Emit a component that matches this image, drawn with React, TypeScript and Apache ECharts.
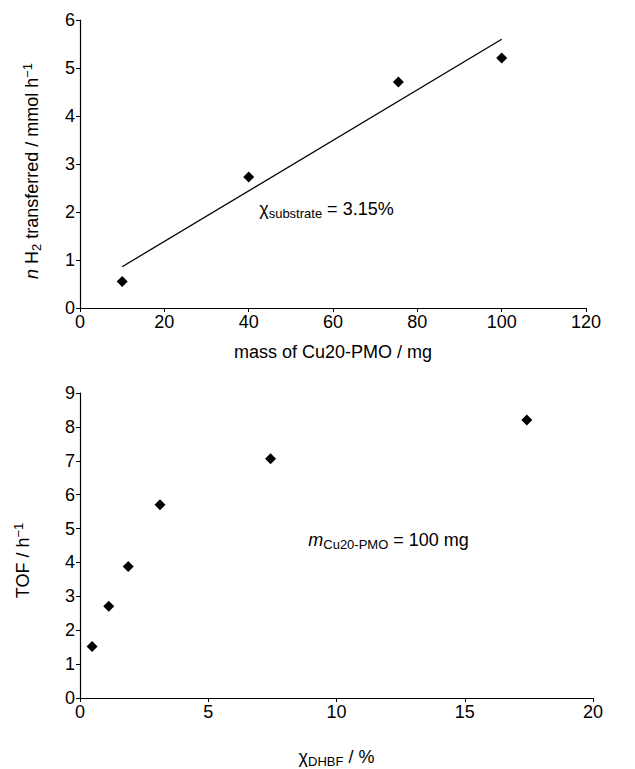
import React, { useEffect, useRef } from "react";
import * as echarts from "echarts";

// Top panel: H2 transferred vs catalyst mass
const massMg = [10, 40, 75.5, 100];
const h2Transferred = [0.55, 2.73, 4.71, 5.21];
const trendMass = [10, 100];
const trendH2 = [0.86, 5.6];
const topAnnotation = [42.5, 2.06];

// Bottom panel: TOF vs substrate fraction
const chiDHBF = [0.47, 1.12, 1.88, 3.12, 7.43, 17.42];
const tof = [1.52, 2.71, 3.88, 5.7, 7.06, 8.2];
const bottomAnnotation = [8.9, 4.65];

const FONT = "'Liberation Sans', Arial, sans-serif";
const BLACK = "#000";
const FS = 18;
const SUB = 13;

const richStyles = {
  i: { fontStyle: "italic", fontSize: FS, fontFamily: FONT, color: BLACK, lineHeight: 22 },
  sub: { fontSize: SUB, fontFamily: FONT, color: BLACK, lineHeight: 13, verticalAlign: "bottom" },
  sup: { fontSize: SUB, fontFamily: FONT, color: BLACK, lineHeight: 13, verticalAlign: "top" },
  n: { fontSize: FS, fontFamily: FONT, color: BLACK, lineHeight: 22 },
};

function axisCommon() {
  return {
    axisLine: { show: true, onZero: false, lineStyle: { color: BLACK, width: 1.2 } },
    axisTick: { show: true, inside: false, length: 4, lineStyle: { color: BLACK, width: 1 } },
    axisLabel: { color: BLACK, fontSize: FS, fontFamily: FONT, margin: 5 },
    splitLine: { show: false },
  };
}

function nameStyle(padding?: number[]) {
  return {
    color: BLACK,
    fontSize: FS,
    fontFamily: FONT,
    lineHeight: 22,
    rich: richStyles,
    ...(padding ? { padding } : {}),
  };
}

export default function App() {
  const ref = useRef<HTMLDivElement>(null);
  useEffect(() => {
    if (!ref.current) return;
    const chart = echarts.init(ref.current, undefined, { renderer: "svg" });
    const option: any = {
      animation: false,
      backgroundColor: "#fff",
      grid: [
        { left: 80, top: 20, width: 506, height: 288 },
        { left: 80, top: 393, width: 513, height: 309 },
      ],
      xAxis: [
        {
          ...axisCommon(),
          gridIndex: 0,
          type: "value",
          min: 0,
          max: 120,
          interval: 20,
          name: "{n|mass of Cu20-PMO / mg}",
          nameLocation: "middle",
          nameGap: 33,
          nameTextStyle: nameStyle(),
        },
        {
          ...axisCommon(),
          gridIndex: 1,
          type: "value",
          min: 0,
          max: 20,
          interval: 5,
          name: "{n|χ}{sub|DHBF}{n| / %}",
          nameLocation: "middle",
          nameGap: 48,
          nameTextStyle: nameStyle(),
        },
      ],
      yAxis: [
        {
          ...axisCommon(),
          gridIndex: 0,
          type: "value",
          min: 0,
          max: 6,
          interval: 1,
          name: "{i|n}{n| H}{sub|2}{n| transferred / mmol h}{sup|−1}",
          nameLocation: "middle",
          nameRotate: 90,
          nameGap: 37,
          nameTextStyle: nameStyle([0, 14, 0, 0]),
        },
        {
          ...axisCommon(),
          gridIndex: 1,
          type: "value",
          min: 0,
          max: 9,
          interval: 1,
          name: "{n|TOF / h}{sup|−1}",
          nameLocation: "middle",
          nameRotate: 90,
          nameGap: 46,
          nameTextStyle: nameStyle([0, 30, 0, 0]),
        },
      ],
      series: [
        {
          type: "line",
          xAxisIndex: 0,
          yAxisIndex: 0,
          data: trendMass.map((x, i) => [x, trendH2[i]]),
          showSymbol: false,
          symbol: "none",
          lineStyle: { color: BLACK, width: 1.3, opacity: 1 },
          z: 2,
        },
        {
          type: "scatter",
          xAxisIndex: 0,
          yAxisIndex: 0,
          data: massMg.map((x, i) => [x, h2Transferred[i]]),
          symbol: "diamond",
          symbolSize: 11,
          itemStyle: { color: BLACK, opacity: 1 },
          z: 3,
        },
        {
          type: "scatter",
          xAxisIndex: 0,
          yAxisIndex: 0,
          data: [topAnnotation],
          symbolSize: 0,
          silent: true,
          itemStyle: { opacity: 1 },
          label: {
            show: true,
            position: "right",
            distance: 0,
            color: BLACK,
            formatter: "{n|χ}{sub|substrate}{n| = 3.15%}",
            rich: richStyles,
          },
        },
        {
          type: "scatter",
          xAxisIndex: 1,
          yAxisIndex: 1,
          data: chiDHBF.map((x, i) => [x, tof[i]]),
          symbol: "diamond",
          symbolSize: 11,
          itemStyle: { color: BLACK, opacity: 1 },
          z: 3,
        },
        {
          type: "scatter",
          xAxisIndex: 1,
          yAxisIndex: 1,
          data: [bottomAnnotation],
          symbolSize: 0,
          silent: true,
          itemStyle: { opacity: 1 },
          label: {
            show: true,
            position: "right",
            distance: 0,
            color: BLACK,
            formatter: "{i|m}{sub|Cu20-PMO}{n| = 100 mg}",
            rich: richStyles,
          },
        },
      ],
    };
    chart.setOption(option);
    return () => chart.dispose();
  }, []);
  return (
    <div
      ref={ref}
      style={{ position: "fixed", left: 0, top: 0, width: 635, height: 769, background: "#fff" }}
    />
  );
}
